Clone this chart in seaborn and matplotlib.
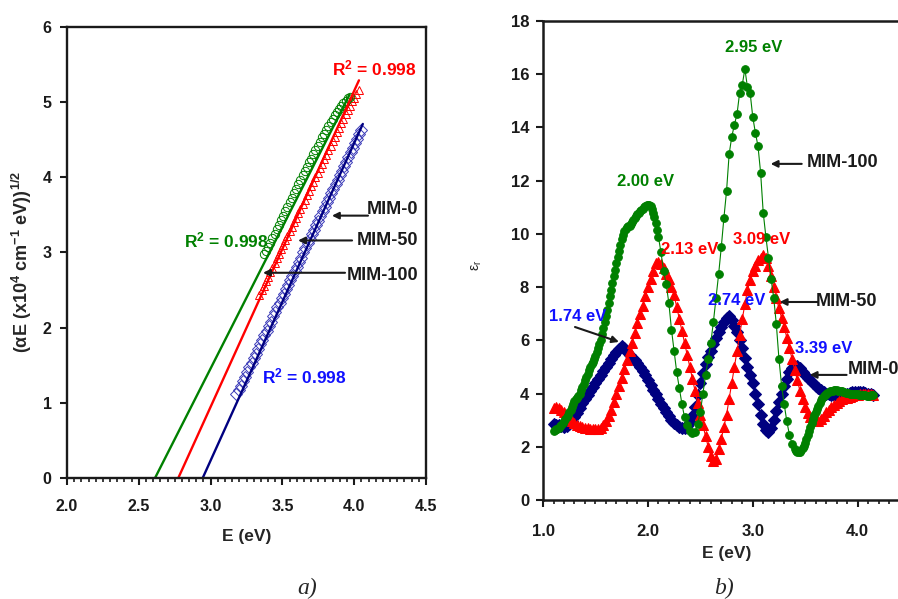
import numpy as np
import matplotlib
matplotlib.use('Agg')
import matplotlib.pyplot as plt
import seaborn as sns
from matplotlib.ticker import MultipleLocator, FormatStrFormatter

# ---------- (a) Tauc plot data (E sampled every 0.015 eV) ----------
tauc_start = [3.18, 3.34, 3.37]          # MIM-0, MIM-50, MIM-100
tauc_y_mim0 = [1.12, 1.17, 1.23, 1.29, 1.35, 1.41, 1.47, 1.53, 1.59, 1.65,
               1.71, 1.78, 1.84, 1.90, 1.96, 2.02, 2.08, 2.15, 2.21, 2.27,
               2.33, 2.39, 2.45, 2.51, 2.57, 2.63, 2.69, 2.75, 2.81, 2.87,
               2.93, 3.00, 3.06, 3.12, 3.18, 3.24, 3.30, 3.36, 3.42, 3.49,
               3.55, 3.61, 3.67, 3.73, 3.79, 3.85, 3.91, 3.97, 4.03, 4.09,
               4.15, 4.21, 4.27, 4.33, 4.39, 4.45, 4.51, 4.57, 4.63]
tauc_y_mim50 = [2.44, 2.50, 2.56, 2.62, 2.68, 2.74, 2.80, 2.86, 2.92, 2.98,
                3.04, 3.10, 3.16, 3.22, 3.28, 3.34, 3.40, 3.46, 3.52, 3.58,
                3.64, 3.70, 3.76, 3.82, 3.88, 3.94, 4.00, 4.06, 4.12, 4.18,
                4.24, 4.30, 4.36, 4.42, 4.48, 4.54, 4.60, 4.66, 4.72, 4.78,
                4.84, 4.90, 4.95, 5.01, 5.06, 5.11, 5.16]
tauc_y_mim100 = [2.98, 3.02, 3.07, 3.13, 3.19, 3.25, 3.31, 3.37, 3.43, 3.49,
                 3.55, 3.61, 3.67, 3.73, 3.79, 3.85, 3.91, 3.97, 4.03, 4.09,
                 4.14, 4.20, 4.25, 4.31, 4.36, 4.42, 4.47, 4.53, 4.58, 4.63,
                 4.68, 4.73, 4.78, 4.83, 4.87, 4.91, 4.95, 4.99, 5.02, 5.05, 5.07]

# linear fits: intercept on E axis and top end (MIM-0, MIM-50, MIM-100)
fit_e0 = [2.945, 2.775, 2.613]
fit_e1 = [4.06, 4.033, 3.965]
fit_y1 = [4.71, 5.29, 5.09]

# ---------- (b) dielectric constant data ----------
# MIM-0 and MIM-50 sampled every 0.025 eV from 1.10 eV
eps_mim0 = [2.85, 2.83, 2.80, 2.77, 2.75, 2.78, 2.85, 2.96, 3.10, 3.27,
            3.45, 3.63, 3.80, 3.95, 4.10, 4.25, 4.40, 4.55, 4.70, 4.85,
            5.00, 5.15, 5.30, 5.43, 5.55, 5.68, 5.80, 5.70, 5.55, 5.45,
            5.35, 5.25, 5.15, 5.00, 4.85, 4.68, 4.50, 4.33, 4.15, 3.98,
            3.80, 3.62, 3.45, 3.30, 3.15, 3.02, 2.90, 2.82, 2.75, 2.72,
            2.72, 2.78, 2.92, 3.15, 3.50, 3.95, 4.40, 4.78, 5.10, 5.38,
            5.60, 5.85, 6.10, 6.30, 6.50, 6.68, 6.85, 6.90, 6.75, 6.55,
            6.30, 6.00, 5.70, 5.35, 5.00, 4.70, 4.40, 4.00, 3.60, 3.20,
            2.85, 2.62, 2.55, 2.72, 3.00, 3.35, 3.70, 4.00, 4.30, 4.55,
            4.80, 4.95, 5.05, 5.02, 4.95, 4.82, 4.70, 4.60, 4.50, 4.40,
            4.30, 4.22, 4.15, 4.07, 4.00, 3.97, 3.95, 3.95, 3.95, 3.95,
            3.95, 3.97, 4.00, 4.02, 4.05, 4.05, 4.05, 4.05, 4.05, 4.03,
            4.00, 3.97, 3.95]
eps_mim50 = [3.45, 3.48, 3.45, 3.38, 3.30, 3.17, 3.05, 2.95, 2.88, 2.82,
             2.78, 2.75, 2.72, 2.70, 2.68, 2.66, 2.65, 2.67, 2.72, 2.82,
             2.98, 3.17, 3.40, 3.70, 4.00, 4.30, 4.60, 4.92, 5.25, 5.58,
             5.90, 6.28, 6.65, 6.98, 7.30, 7.65, 8.00, 8.30, 8.60, 8.90,
             8.95, 8.85, 8.70, 8.50, 8.30, 8.00, 7.70, 7.25, 6.80, 6.35,
             5.90, 5.45, 5.00, 4.55, 4.10, 3.65, 3.20, 2.80, 2.40, 2.00,
             1.65, 1.45, 1.55, 1.90, 2.30, 2.75, 3.20, 3.80, 4.40, 5.00,
             5.60, 6.20, 6.80, 7.35, 7.90, 8.25, 8.60, 8.80, 9.00, 9.10,
             9.20, 9.10, 8.80, 8.40, 8.00, 7.60, 7.20, 6.85, 6.50, 6.10,
             5.70, 5.30, 4.90, 4.50, 4.10, 3.80, 3.50, 3.28, 3.10, 3.00,
             2.95, 2.98, 3.05, 3.17, 3.30, 3.40, 3.50, 3.58, 3.65, 3.72,
             3.78, 3.82, 3.85, 3.88, 3.90, 3.93, 3.95, 3.98, 4.00, 4.00,
             4.00, 3.98, 3.95]
# MIM-100: 1.10-2.0875 every 0.0125, 2.10-3.375 every 0.025, 3.40-4.15 every 0.0125
eps_mim100_low = [2.60, 2.62, 2.65, 2.68, 2.72, 2.77, 2.82, 2.88,
                  2.95, 3.03, 3.12, 3.21, 3.30, 3.40, 3.50, 3.61,
                  3.72, 3.79, 3.85, 3.92, 4.00, 4.12, 4.25, 4.37,
                  4.50, 4.62, 4.75, 4.88, 5.00, 5.10, 5.20, 5.30,
                  5.40, 5.55, 5.70, 5.85, 6.00, 6.22, 6.45, 6.68,
                  6.90, 7.15, 7.40, 7.65, 7.90, 8.15, 8.40, 8.65,
                  8.90, 9.12, 9.35, 9.58, 9.80, 9.97, 10.10, 10.18,
                  10.25, 10.28, 10.30, 10.37, 10.45, 10.52, 10.60, 10.68,
                  10.75, 10.80, 10.85, 10.90, 10.95, 11.00, 11.05, 11.08,
                  11.10, 11.10, 11.05, 10.95, 10.80, 10.62, 10.40, 10.15]
eps_mim100_mid = [9.90, 9.30, 8.60, 8.10, 7.40, 6.40, 5.60, 4.80, 4.20, 3.60,
                  3.10, 2.80, 2.60, 2.50, 2.55, 2.85, 3.30, 4.00, 4.70, 5.30,
                  5.90, 6.70, 7.60, 8.50, 9.50, 10.60, 11.60, 13.00, 13.65, 14.10,
                  14.50, 15.30, 15.60, 16.20, 15.50, 15.30, 14.40, 13.80, 13.30, 12.30,
                  10.80, 9.90, 9.10, 8.30, 7.60, 6.60, 5.30, 4.30, 3.60, 2.95,
                  2.45, 2.10]
eps_mim100_high = [1.90, 1.84, 1.80, 1.80, 1.82, 1.87, 1.95, 2.04,
                   2.15, 2.29, 2.45, 2.60, 2.75, 2.90, 3.05, 3.18,
                   3.30, 3.43, 3.55, 3.66, 3.75, 3.83, 3.90, 3.95,
                   4.00, 4.03, 4.05, 4.08, 4.10, 4.11, 4.12, 4.12,
                   4.12, 4.11, 4.10, 4.09, 4.08, 4.06, 4.05, 4.03,
                   4.02, 4.01, 4.00, 4.00, 4.00, 3.99, 3.98, 3.97,
                   3.97, 3.96, 3.95, 3.95, 3.95, 3.94, 3.93, 3.92,
                   3.92, 3.92, 3.93, 3.94, 3.95]


def grid(start, step, vals):
    return np.round(start + step * np.arange(len(vals)), 4)


tauc_e_mim0 = grid(tauc_start[0], 0.015, tauc_y_mim0)
tauc_e_mim50 = grid(tauc_start[1], 0.015, tauc_y_mim50)
tauc_e_mim100 = grid(tauc_start[2], 0.015, tauc_y_mim100)
eps_e = grid(1.10, 0.025, eps_mim0)
eps_e100 = np.concatenate([grid(1.10, 0.0125, eps_mim100_low),
                           grid(2.10, 0.025, eps_mim100_mid),
                           grid(3.40, 0.0125, eps_mim100_high)])
eps_mim100 = eps_mim100_low + eps_mim100_mid + eps_mim100_high

NAVY, RED, GREEN = '#000080', '#ff0000', '#008000'
TXT_BLUE = '#1010ff'

sns.set_theme(style='ticks')
plt.rcParams['font.family'] = ['Liberation Sans', 'DejaVu Sans']
plt.rcParams['font.weight'] = 'bold'
plt.rcParams['mathtext.default'] = 'regular'

fig = plt.figure(figsize=(8.98, 5.99), dpi=100)
ax1 = fig.add_axes([0.0746, 0.202, 0.3998, 0.753])
ax2 = fig.add_axes([0.6047, 0.1653, 0.4087, 0.7997])

# ---- panel a ----
for e, y, m, c in [(tauc_e_mim0, tauc_y_mim0, 'D', '#3a3ab8'),
                   (tauc_e_mim50, tauc_y_mim50, '^', RED),
                   (tauc_e_mim100, tauc_y_mim100, 'o', GREEN)]:
    sns.lineplot(x=e, y=y, ax=ax1, marker=m, linestyle='none', markersize=6,
                 mfc='none', mec=c, mew=0.7, color=c)
for x0, x1, y1, c in zip(fit_e0, fit_e1, fit_y1, [NAVY, RED, GREEN]):
    sns.lineplot(x=[x0, x1], y=[0, y1], ax=ax1, color=c, linewidth=1.7)

ax1.set_xlim(2.0, 4.5)
ax1.set_ylim(0, 6)
ax1.xaxis.set_major_locator(MultipleLocator(0.5))
ax1.xaxis.set_minor_locator(MultipleLocator(0.05))
ax1.xaxis.set_major_formatter(FormatStrFormatter('%.1f'))
ax1.yaxis.set_major_locator(MultipleLocator(1))
ax1.tick_params(which='major', direction='out', length=5, width=1.5,
                labelsize=11.5, colors='k')
ax1.tick_params(axis='x', which='major', pad=10)
ax1.tick_params(axis='y', which='major', pad=6)
ax1.tick_params(axis='x', which='minor', direction='out', length=3, width=1.2, colors='k')
for s in ax1.spines.values():
    s.set_linewidth(1.7)
    s.set_color('k')
ax1.set_xlabel('E (eV)', fontsize=12.5, fontweight='bold', labelpad=11)
ax1.set_ylabel('(αE (x10$^4$ cm$^{-1}$ eV))$^{1/2}$', fontsize=13, fontweight='bold')
ax1.yaxis.set_label_coords(-0.093, 0.48)

ax1.text(4.14, 5.45, 'R$^2$ = 0.998', color=RED, fontsize=12.5, ha='center', va='center')
ax1.text(3.107, 3.16, 'R$^2$ = 0.998', color=GREEN, fontsize=12.5, ha='center', va='center')
ax1.text(3.65, 1.35, 'R$^2$ = 0.998', color=TXT_BLUE, fontsize=12.5, ha='center', va='center')

arrow = dict(arrowstyle='-|>', color='k', lw=1.5, mutation_scale=10, shrinkA=0, shrinkB=0)
for label, ytxt, tail, tip, yarr in [('MIM-0', 3.57, 4.096, 3.845, 3.49),
                                     ('MIM-50', 3.16, 3.985, 3.609, 3.16),
                                     ('MIM-100', 2.69, 3.936, 3.365, 2.73)]:
    ax1.text(4.445, ytxt, label, color='k', fontsize=13, ha='right', va='center')
    ax1.annotate('', xy=(tip, yarr), xytext=(tail, yarr), arrowprops=arrow)

# ---- panel b ----
sns.lineplot(x=eps_e, y=eps_mim0, ax=ax2, color=NAVY, linewidth=0.8,
             marker='D', markersize=6, mec=NAVY, mfc=NAVY)
sns.lineplot(x=eps_e, y=eps_mim50, ax=ax2, color=RED, linewidth=0.8,
             marker='^', markersize=7, mec=RED, mfc=RED)
sns.lineplot(x=eps_e100, y=eps_mim100, ax=ax2, color=GREEN, linewidth=0.8,
             marker='o', markersize=5.5, mec=GREEN, mfc=GREEN)

ax2.set_xlim(1.0, 4.5)
ax2.set_ylim(0, 18)
ax2.xaxis.set_major_locator(MultipleLocator(1.0))
ax2.xaxis.set_minor_locator(MultipleLocator(0.1))
ax2.xaxis.set_major_formatter(FormatStrFormatter('%.1f'))
ax2.yaxis.set_major_locator(MultipleLocator(2))
ax2.tick_params(which='major', direction='out', length=5, width=1.5,
                labelsize=12, colors='k')
ax2.tick_params(axis='x', which='major', pad=12)
ax2.tick_params(axis='y', which='major', pad=5)
ax2.tick_params(axis='x', which='minor', direction='out', length=3, width=1.2, colors='k')
for s in ax2.spines.values():
    s.set_linewidth(1.8)
    s.set_color('k')
ax2.set_xlabel('E (eV)', fontsize=12.5, fontweight='bold', labelpad=5)
ax2.set_ylabel('ε$_r$', fontsize=10, fontweight='normal')
ax2.yaxis.set_label_coords(-0.16, 0.49)

for txt, x, y, c in [('2.95 eV', 3.01, 17.0, GREEN), ('2.00 eV', 1.98, 11.95, GREEN),
                     ('2.13 eV', 2.40, 9.4, RED), ('3.09 eV', 3.08, 9.8, RED),
                     ('2.74 eV', 2.85, 7.48, TXT_BLUE), ('1.74 eV', 1.33, 6.88, TXT_BLUE),
                     ('3.39 eV', 3.68, 5.71, TXT_BLUE)]:
    ax2.text(x, y, txt, color=c, fontsize=12, ha='center', va='center')

for label, xtxt, ytxt, tail, tip in [('MIM-100', 3.514, 12.67, (3.467, 12.63), (3.171, 12.63)),
                                     ('MIM-50', 3.60, 7.44, (3.62, 7.44), (3.257, 7.44)),
                                     ('MIM-0', 3.905, 4.89, (3.895, 4.70), (3.543, 4.70))]:
    ax2.text(xtxt, ytxt, label, color='k', fontsize=13, ha='left', va='center')
    ax2.annotate('', xy=tip, xytext=tail, arrowprops=arrow)
ax2.annotate('', xy=(1.724, 5.94), xytext=(1.305, 6.50), arrowprops=arrow)

fig.text(307 / 898, 1 - 588 / 599, 'a)', fontsize=17, fontstyle='italic', fontweight='normal',
         family='Liberation Serif', ha='center', va='center')
fig.text(724 / 898, 1 - 588 / 599, 'b)', fontsize=17, fontstyle='italic', fontweight='normal',
         family='Liberation Serif', ha='center', va='center')

fig.savefig('out.png', dpi=100)
